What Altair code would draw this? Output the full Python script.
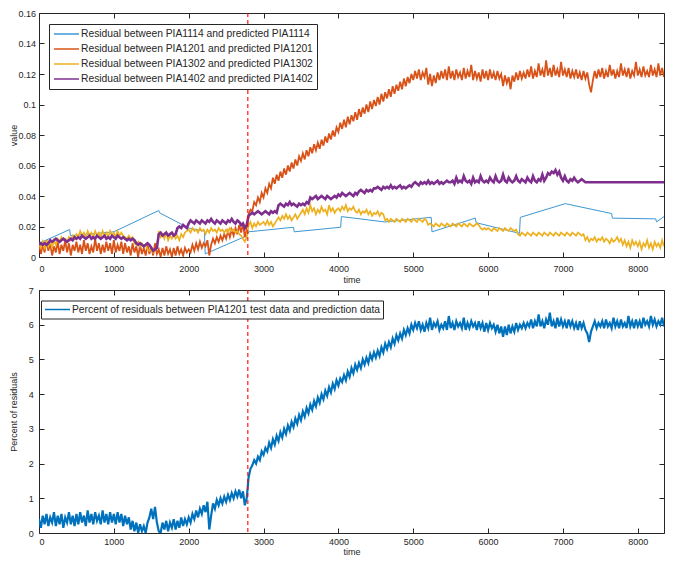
import altair as alt
import pandas as pd

# ---------------- data ----------------
TIME = list(range(0, 8501, 25))          # sample times of the noisy series
X_TICKS = [0, 1000, 2000, 3000, 4000, 5000, 6000, 7000, 8000]
TOP_Y_TICKS = [0, 0.02, 0.04, 0.06, 0.08, 0.1, 0.12, 0.14, 0.16]
BOTTOM_Y_TICKS = [0, 1, 2, 3, 4, 5, 6, 7]
EVENT_TIME = [2790]
X_MAX = 8350

SERIES = [
    "Residual between PIA1114 and predicted PIA1114",
    "Residual between PIA1201 and predicted PIA1201",
    "Residual between PIA1302 and predicted PIA1302",
    "Residual between PIA1402 and predicted PIA1402",
]
BOTTOM_SERIES = ["Percent of residuals between PIA1201 test data and prediction data"]

# PIA1114 residual (piecewise, own time stamps)
PIA1114_TIME = [0, 410, 420, 1000, 1600, 1610, 2000, 2210, 2220, 2780, 2800, 3400, 3410,
                4030, 4040, 4620, 5240, 5250, 5830, 5840, 6420, 6430, 7030, 7650, 7660,
                8240, 8250, 8350]
PIA1114 = [0.009, 0.018, 0.014, 0.0165, 0.0305, 0.029, 0.019, 0.017, 0.002, 0.014, 0.0165,
           0.0195, 0.0165, 0.0195, 0.0265, 0.023, 0.026, 0.0165, 0.0255, 0.0225, 0.0155,
           0.026, 0.035, 0.0285, 0.0255, 0.025, 0.023, 0.0265]

PIA1201 = [
    0.009, 0.002, 0.008, 0.003, 0.011, 0.004, 0.009, 0.001, 0.007, 0.003, 0.010, 0.002, 0.008, 0.004, 0.011, 0.003, 0.009, 0.001, 0.008, 0.004,
    0.010, 0.003, 0.008, 0.002, 0.011, 0.004, 0.009, 0.002, 0.007, 0.003, 0.012, 0.004, 0.009, 0.002, 0.008, 0.003, 0.010, 0.004, 0.009, 0.002,
    0.011, 0.003, 0.008, 0.004, 0.010, 0.002, 0.009, 0.003, 0.007, 0.001, 0.009, 0.003, 0.007, 0.000, 0.008, 0.002, 0.006, 0.001, 0.008, 0.002,
    0.007, 0.001, 0.009, 0.002, 0.005, 0.000, 0.006, 0.001, 0.007, 0.002, 0.005, 0.000, 0.006, 0.001, 0.007, 0.002, 0.005, 0.001, 0.006, 0.003,
    0.005, 0.003, 0.008, 0.004, 0.009, 0.005, 0.010, 0.006, 0.009, 0.007, 0.011, 0.001, 0.008, 0.012, 0.009, 0.013, 0.010, 0.014, 0.011, 0.015,
    0.012, 0.017, 0.013, 0.018, 0.014, 0.019, 0.015, 0.021, 0.016, 0.022, 0.013, 0.018, 0.028, 0.031, 0.030, 0.036, 0.034, 0.039, 0.036, 0.042,
    0.039, 0.045, 0.042, 0.048, 0.045, 0.052, 0.048, 0.054, 0.050, 0.056, 0.052, 0.058, 0.054, 0.060, 0.056, 0.062, 0.058, 0.064, 0.060, 0.066,
    0.063, 0.068, 0.064, 0.070, 0.066, 0.072, 0.068, 0.074, 0.070, 0.075, 0.071, 0.077, 0.073, 0.079, 0.075, 0.081, 0.077, 0.083, 0.079, 0.085,
    0.082, 0.088, 0.084, 0.090, 0.085, 0.092, 0.087, 0.093, 0.089, 0.095, 0.090, 0.097, 0.092, 0.098, 0.094, 0.100, 0.095, 0.102, 0.097, 0.103,
    0.099, 0.105, 0.100, 0.107, 0.102, 0.108, 0.104, 0.110, 0.105, 0.112, 0.107, 0.113, 0.109, 0.115, 0.110, 0.117, 0.112, 0.118, 0.114, 0.120,
    0.116, 0.122, 0.117, 0.123, 0.116, 0.121, 0.118, 0.124, 0.113, 0.120, 0.112, 0.119, 0.114, 0.121, 0.116, 0.122, 0.117, 0.123, 0.116, 0.125,
    0.117, 0.122, 0.116, 0.123, 0.118, 0.121, 0.116, 0.124, 0.117, 0.122, 0.118, 0.126, 0.116, 0.122, 0.117, 0.121, 0.115, 0.123, 0.117, 0.122,
    0.116, 0.123, 0.117, 0.121, 0.116, 0.122, 0.117, 0.120, 0.112, 0.119, 0.114, 0.118, 0.110, 0.119, 0.115, 0.121, 0.116, 0.122, 0.117, 0.121,
    0.117, 0.123, 0.118, 0.125, 0.117, 0.122, 0.118, 0.127, 0.119, 0.123, 0.118, 0.129, 0.119, 0.124, 0.118, 0.126, 0.119, 0.123, 0.118, 0.128,
    0.119, 0.123, 0.118, 0.124, 0.117, 0.122, 0.118, 0.123, 0.117, 0.121, 0.116, 0.122, 0.117, 0.121, 0.113, 0.108, 0.116, 0.122, 0.117, 0.123,
    0.118, 0.124, 0.117, 0.122, 0.118, 0.126, 0.119, 0.123, 0.117, 0.122, 0.118, 0.127, 0.119, 0.123, 0.118, 0.124, 0.117, 0.122, 0.119, 0.128,
    0.119, 0.123, 0.118, 0.125, 0.119, 0.122, 0.118, 0.126, 0.119, 0.123, 0.118, 0.127, 0.119, 0.124, 0.118, 0.123, 0.119, 0.125, 0.118, 0.123,
    0.120,
]

PIA1302 = [
    0.009, 0.006, 0.010, 0.005, 0.011, 0.007, 0.010, 0.006, 0.011, 0.008, 0.012, 0.010, 0.013, 0.011, 0.012, 0.010, 0.013, 0.011, 0.014, 0.012,
    0.015, 0.013, 0.017, 0.014, 0.016, 0.013, 0.017, 0.014, 0.016, 0.013, 0.017, 0.014, 0.016, 0.013, 0.017, 0.014, 0.016, 0.013, 0.017, 0.014,
    0.016, 0.013, 0.017, 0.014, 0.016, 0.014, 0.013, 0.012, 0.014, 0.012, 0.013, 0.009, 0.008, 0.010, 0.007, 0.009, 0.007, 0.008, 0.005, 0.004,
    0.005, 0.003, 0.004, 0.006, 0.017, 0.013, 0.015, 0.012, 0.016, 0.011, 0.014, 0.012, 0.015, 0.012, 0.014, 0.011, 0.015, 0.013, 0.016, 0.017,
    0.018, 0.016, 0.019, 0.017, 0.018, 0.016, 0.019, 0.017, 0.018, 0.015, 0.018, 0.016, 0.019, 0.017, 0.018, 0.016, 0.019, 0.017, 0.018, 0.016,
    0.018, 0.016, 0.019, 0.017, 0.018, 0.016, 0.017, 0.015, 0.014, 0.012, 0.010, 0.013, 0.021, 0.023, 0.019, 0.022, 0.020, 0.023, 0.021, 0.022,
    0.023, 0.021, 0.024, 0.021, 0.023, 0.020, 0.022, 0.024, 0.026, 0.024, 0.027, 0.025, 0.028, 0.025, 0.027, 0.024, 0.026, 0.028, 0.025, 0.027,
    0.029, 0.031, 0.028, 0.032, 0.029, 0.034, 0.030, 0.032, 0.028, 0.031, 0.029, 0.033, 0.030, 0.031, 0.028, 0.034, 0.030, 0.032, 0.029, 0.031,
    0.032, 0.030, 0.033, 0.031, 0.034, 0.030, 0.032, 0.031, 0.033, 0.030, 0.029, 0.031, 0.028, 0.030, 0.029, 0.031, 0.028, 0.030, 0.027, 0.029,
    0.028, 0.030, 0.027, 0.029, 0.028, 0.024, 0.025, 0.023, 0.025, 0.024, 0.023, 0.025, 0.024, 0.023, 0.025, 0.024, 0.023, 0.025, 0.024, 0.023,
    0.025, 0.024, 0.023, 0.025, 0.024, 0.023, 0.025, 0.024, 0.021, 0.022, 0.021, 0.020, 0.022, 0.021, 0.020, 0.022, 0.021, 0.020, 0.022, 0.021,
    0.020, 0.022, 0.021, 0.020, 0.022, 0.021, 0.020, 0.022, 0.021, 0.020, 0.022, 0.021, 0.020, 0.021, 0.022, 0.021, 0.019, 0.018, 0.019, 0.018,
    0.019, 0.018, 0.017, 0.019, 0.018, 0.017, 0.019, 0.018, 0.017, 0.019, 0.018, 0.017, 0.019, 0.018, 0.017, 0.018, 0.015, 0.014, 0.016, 0.015,
    0.014, 0.016, 0.015, 0.014, 0.016, 0.015, 0.014, 0.016, 0.015, 0.014, 0.016, 0.015, 0.014, 0.016, 0.015, 0.014, 0.016, 0.015, 0.014, 0.016,
    0.015, 0.014, 0.016, 0.015, 0.014, 0.016, 0.015, 0.014, 0.016, 0.015, 0.014, 0.015, 0.011, 0.013, 0.010, 0.012, 0.011, 0.013, 0.010, 0.012,
    0.011, 0.013, 0.010, 0.012, 0.011, 0.009, 0.012, 0.010, 0.011, 0.013, 0.010, 0.012, 0.008, 0.011, 0.007, 0.010, 0.006, 0.011, 0.008, 0.010,
    0.007, 0.010, 0.005, 0.009, 0.007, 0.011, 0.006, 0.009, 0.005, 0.010, 0.007, 0.009, 0.006, 0.011, 0.007, 0.010, 0.005, 0.009, 0.007, 0.010,
    0.008,
]

PIA1402 = [
    0.008, 0.009, 0.008, 0.009, 0.008, 0.009, 0.011, 0.010, 0.011, 0.012, 0.011, 0.010, 0.011, 0.012, 0.011, 0.010, 0.011, 0.012, 0.011, 0.013,
    0.012, 0.013, 0.012, 0.014, 0.013, 0.012, 0.013, 0.014, 0.012, 0.013, 0.012, 0.014, 0.013, 0.012, 0.013, 0.014, 0.012, 0.013, 0.012, 0.014,
    0.013, 0.012, 0.014, 0.013, 0.012, 0.013, 0.012, 0.011, 0.012, 0.011, 0.012, 0.011, 0.009, 0.008, 0.009, 0.008, 0.007, 0.008, 0.009, 0.008,
    0.006, 0.004, 0.005, 0.006, 0.015, 0.016, 0.014, 0.015, 0.016, 0.014, 0.015, 0.016, 0.014, 0.015, 0.019, 0.020, 0.019, 0.021, 0.020, 0.019,
    0.022, 0.024, 0.023, 0.022, 0.024, 0.023, 0.022, 0.024, 0.023, 0.022, 0.024, 0.023, 0.025, 0.023, 0.022, 0.024, 0.023, 0.022, 0.024, 0.023,
    0.022, 0.024, 0.023, 0.025, 0.023, 0.022, 0.024, 0.023, 0.021, 0.022, 0.019, 0.021, 0.027, 0.028, 0.029, 0.028, 0.029, 0.030, 0.029, 0.028,
    0.029, 0.030, 0.029, 0.028, 0.030, 0.029, 0.030, 0.029, 0.034, 0.035, 0.034, 0.033, 0.035, 0.034, 0.036, 0.034, 0.035, 0.034, 0.033, 0.035,
    0.034, 0.035, 0.034, 0.036, 0.035, 0.039, 0.038, 0.039, 0.040, 0.038, 0.039, 0.040, 0.039, 0.038, 0.040, 0.039, 0.038, 0.039, 0.040, 0.039,
    0.041, 0.040, 0.042, 0.041, 0.040, 0.041, 0.042, 0.041, 0.040, 0.042, 0.041, 0.043, 0.044, 0.043, 0.042, 0.044, 0.043, 0.044, 0.043, 0.045,
    0.045, 0.046, 0.045, 0.044, 0.046, 0.045, 0.046, 0.045, 0.047, 0.045, 0.046, 0.045, 0.046, 0.047, 0.045, 0.046, 0.045, 0.046, 0.047, 0.046,
    0.048, 0.049, 0.048, 0.047, 0.049, 0.048, 0.049, 0.048, 0.050, 0.048, 0.049, 0.048, 0.049, 0.050, 0.048, 0.049, 0.048, 0.049, 0.050, 0.049,
    0.049, 0.050, 0.048, 0.052, 0.049, 0.050, 0.049, 0.053, 0.050, 0.049, 0.050, 0.048, 0.052, 0.049, 0.050, 0.049, 0.053, 0.050, 0.049, 0.050,
    0.049, 0.052, 0.050, 0.049, 0.053, 0.050, 0.049, 0.050, 0.054, 0.050, 0.049, 0.052, 0.050, 0.049, 0.050, 0.053, 0.050, 0.049, 0.051, 0.050,
    0.049, 0.052, 0.050, 0.049, 0.053, 0.050, 0.049, 0.051, 0.050, 0.054, 0.050, 0.052, 0.055, 0.054, 0.056, 0.055, 0.057, 0.054, 0.056, 0.052,
    0.050, 0.053, 0.050, 0.049, 0.051, 0.050, 0.052, 0.050, 0.049, 0.050, 0.051, 0.050, 0.049, 0.049, 0.049, 0.049, 0.049, 0.049, 0.049, 0.049,
    0.049, 0.049, 0.049, 0.049, 0.049, 0.049, 0.049, 0.049, 0.049, 0.049, 0.049, 0.049, 0.049, 0.049, 0.049, 0.049, 0.049, 0.049, 0.049, 0.049,
    0.049, 0.049, 0.049, 0.049, 0.049, 0.049, 0.049, 0.049, 0.049, 0.049, 0.049, 0.049, 0.049, 0.049, 0.049, 0.049, 0.049, 0.049, 0.049, 0.049,
    0.049,
]

PERCENT_1201 = [
    0.40, 0.15, 0.50, 0.25, 0.55, 0.20, 0.45, 0.30, 0.60, 0.20, 0.50, 0.25, 0.55, 0.15, 0.45, 0.30, 0.60, 0.25, 0.50, 0.20,
    0.55, 0.25, 0.60, 0.30, 0.50, 0.20, 0.65, 0.30, 0.55, 0.25, 0.60, 0.35, 0.50, 0.25, 0.65, 0.30, 0.55, 0.25, 0.60, 0.30,
    0.55, 0.25, 0.60, 0.30, 0.55, 0.20, 0.50, 0.25, 0.45, 0.10, 0.35, 0.05, 0.30, 0.00, 0.25, 0.05, 0.20, 0.00, 0.30, 0.45,
    0.70, 0.40, 0.75, 0.30, 0.05, 0.00, 0.30, 0.10, 0.35, 0.05, 0.30, 0.15, 0.40, 0.10, 0.35, 0.15, 0.45, 0.20, 0.40, 0.25,
    0.45, 0.30, 0.55, 0.40, 0.65, 0.45, 0.70, 0.55, 0.80, 0.60, 0.90, 0.10, 0.50, 0.85, 0.70, 0.95, 0.80, 1.00, 0.85, 1.05,
    0.90, 1.10, 0.95, 1.15, 1.00, 1.20, 1.05, 1.25, 1.00, 1.20, 0.80, 1.00, 1.60, 1.85, 1.95, 2.10, 2.00, 2.20, 2.10, 2.35,
    2.25, 2.45, 2.35, 2.60, 2.45, 2.70, 2.55, 2.80, 2.65, 2.90, 2.75, 3.00, 2.85, 3.10, 2.95, 3.20, 3.05, 3.30, 3.15, 3.40,
    3.25, 3.50, 3.35, 3.60, 3.45, 3.70, 3.55, 3.80, 3.65, 3.90, 3.75, 4.00, 3.85, 4.10, 3.95, 4.20, 4.05, 4.30, 4.15, 4.40,
    4.25, 4.45, 4.35, 4.55, 4.40, 4.65, 4.50, 4.75, 4.60, 4.85, 4.70, 4.90, 4.75, 5.00, 4.85, 5.05, 4.90, 5.15, 5.00, 5.20,
    5.05, 5.25, 5.10, 5.35, 5.20, 5.45, 5.30, 5.50, 5.35, 5.60, 5.45, 5.70, 5.55, 5.75, 5.60, 5.85, 5.70, 5.90, 5.75, 6.00,
    5.85, 6.05, 5.90, 6.10, 5.85, 6.00, 5.80, 6.05, 5.90, 6.20, 5.85, 6.05, 5.95, 6.10, 5.85, 6.00, 5.90, 6.10, 5.85, 6.25,
    5.90, 6.05, 5.85, 6.10, 5.95, 6.05, 5.90, 6.20, 5.85, 6.05, 5.90, 6.10, 5.95, 6.05, 5.85, 6.10, 5.90, 6.05, 5.80, 6.05,
    5.85, 6.05, 5.90, 6.00, 5.80, 6.00, 5.75, 5.95, 5.65, 5.95, 5.70, 6.00, 5.75, 5.95, 5.80, 6.05, 5.85, 6.00, 5.90, 6.05,
    5.90, 6.05, 5.95, 6.15, 5.90, 6.10, 5.95, 6.30, 5.95, 6.10, 5.90, 6.15, 6.00, 6.35, 5.95, 6.10, 5.90, 6.20, 5.95, 6.15,
    5.95, 6.10, 5.90, 6.15, 5.95, 6.10, 5.90, 6.05, 5.85, 6.10, 5.90, 6.05, 5.85, 5.75, 5.50, 5.80, 5.95, 6.10, 5.90, 6.05,
    5.95, 6.10, 5.90, 6.15, 5.95, 6.05, 5.90, 6.20, 5.95, 6.10, 5.90, 6.15, 5.95, 6.05, 5.90, 6.25, 5.95, 6.10, 5.90, 6.15,
    5.95, 6.10, 5.90, 6.20, 6.00, 6.10, 5.95, 6.25, 6.00, 6.15, 5.95, 6.10, 6.00, 6.20, 5.95, 6.15, 6.00, 6.25, 5.95, 6.10,
    6.05,
]

COLORS = ["#3D97D3", "#D95319", "#EDB120", "#7E2F8E"]
WIDTHS = [1.0, 1.8, 1.7, 2.6]
BOTTOM_COLOR = ["#0072BD"]

FONT = "Liberation Sans"
INK = "#262626"
LEGEND_STROKE = "M-2.5,0L2.5,0"


def frame(times, values, name):
    df = pd.DataFrame({"time": times[: len(values)], "value": values, "series": name})
    return df[df["time"] <= X_MAX]          # keep only the visible time window


top_frames = [
    frame(PIA1114_TIME, PIA1114, SERIES[0]),
    frame(TIME, PIA1201, SERIES[1]),
    frame(TIME, PIA1302, SERIES[2]),
    frame(TIME, PIA1402, SERIES[3]),
]
bottom_frame = frame(TIME, PERCENT_1201, BOTTOM_SERIES[0])
event_frame = pd.DataFrame({"time": EVENT_TIME})


def in_axis(orient, values, title=None, labels=True, label_pad=4, title_pad=3, fmt="~g",
            extent=0):
    kw = dict(orient=orient, values=values, tickSize=5, offset=-5, domain=False,
              grid=False, labels=labels, labelPadding=label_pad, tickColor=INK,
              tickWidth=1, labelFontSize=9, labelFont=FONT, labelColor=INK,
              format=fmt, minExtent=extent, maxExtent=extent)
    if title is not None:
        kw.update(title=title, titlePadding=title_pad, titleFontSize=9,
                  titleFont=FONT, titleColor=INK, titleFontWeight="normal")
    else:
        kw.update(title=None)
    return alt.Axis(**kw)


def panel(frames, names, colors, widths, y_domain, y_ticks, y_title, width, height,
          legend_x, legend_y, ylab_pad, y_ext, xlab_pad, x_ext, x_title_pad,
          legend_pad, row_pad):
    xs = alt.Scale(domain=[0, X_MAX], nice=False, zero=False)
    ys = alt.Scale(domain=y_domain, nice=False, zero=False)
    cs = alt.Scale(domain=names, range=colors)
    legend = alt.Legend(title=None, orient="none", legendX=legend_x, legendY=legend_y,
                        offset=0, symbolType=LEGEND_STROKE, symbolSize=100,
                        symbolStrokeWidth=1.5, symbolOffset=7.5, labelOffset=8.5,
                        labelFontSize=10.3, labelFont=FONT, labelColor=INK,
                        strokeColor=INK, fillColor="white", padding=legend_pad,
                        rowPadding=row_pad, labelLimit=600, cornerRadius=0)
    layers = []
    for i, (df, w) in enumerate(zip(frames, widths)):
        if i == 0:
            xa = in_axis("bottom", X_TICKS, "time", label_pad=xlab_pad,
                         title_pad=x_title_pad, fmt="d", extent=x_ext)
            ya = in_axis("left", y_ticks, y_title, label_pad=ylab_pad, title_pad=2,
                         extent=y_ext)
        else:
            xa = None
            ya = None
        layers.append(
            alt.Chart(df).mark_line(strokeWidth=w, clip=True).encode(
                x=alt.X("time:Q", scale=xs, axis=xa),
                y=alt.Y("value:Q", scale=ys, axis=ya),
                color=alt.Color("series:N", scale=cs, legend=legend),
            )
        )
    layers.append(
        alt.Chart(event_frame).mark_rule(color="#FF0000", strokeDash=[4, 3], strokeWidth=1.1).encode(
            x=alt.X("time:Q", scale=xs, axis=None)
        )
    )
    # inward tick marks on the top and right edges of the box
    layers.append(
        alt.Chart(frames[-1]).mark_line(opacity=0, clip=True).encode(
            x=alt.X("time:Q", scale=xs, axis=in_axis("top", X_TICKS, labels=False)),
            y=alt.Y("value:Q", scale=ys, axis=in_axis("right", y_ticks, labels=False)),
        )
    )
    return alt.layer(*layers).resolve_axis(x="independent", y="independent").properties(
        width=width, height=height
    )


top = panel(top_frames, SERIES, COLORS, WIDTHS, [0, 0.16], TOP_Y_TICKS, "value", 625, 244,
            10, 11, 3.5, 24, 7, 21, 2, 4, 3)
bottom = panel([bottom_frame], BOTTOM_SERIES, BOTTOM_COLOR, [2.2], [0, 7], BOTTOM_Y_TICKS,
               "Percent of residuals", 625, 243, 2, 10.5, 5.7, 24, 4, 18, 1.5, 3, 3)

chart = alt.concat(top, bottom, columns=1, spacing=0).resolve_scale(
    color="independent"
).resolve_legend(color="independent").properties(
    padding=0, background="white"
).configure_view(stroke=INK, strokeWidth=1)

chart.save("out.html", embed_options={"renderer": "svg", "actions": False})
